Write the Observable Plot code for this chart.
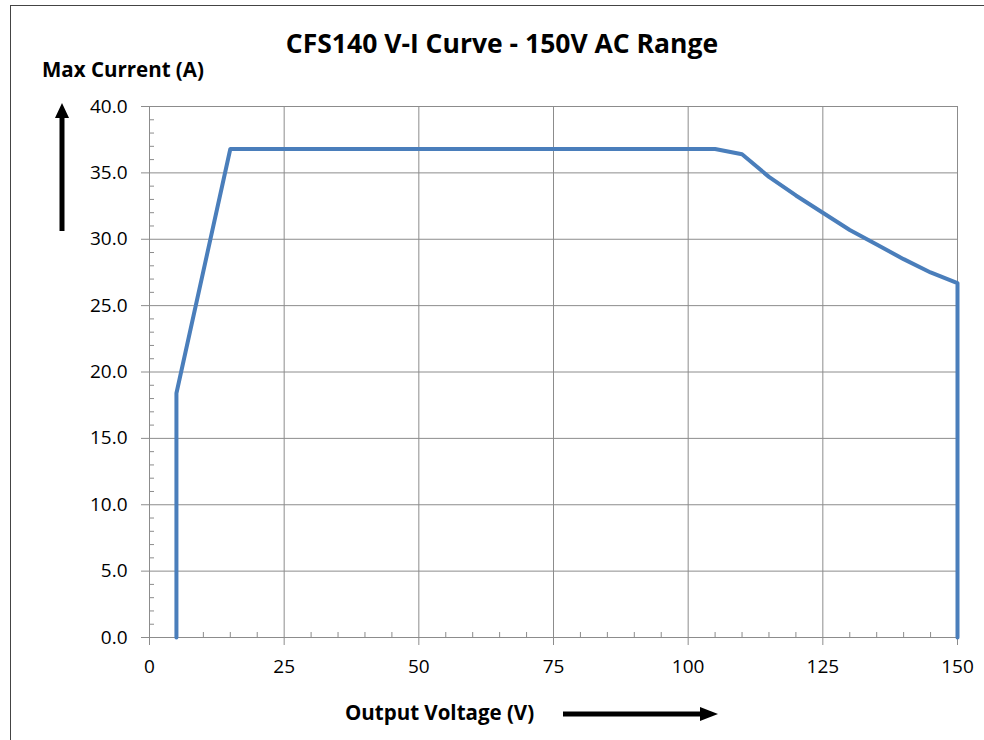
<!DOCTYPE html>
<html>
<head>
<meta charset="utf-8">
<script src="https://cdn.jsdelivr.net/npm/d3@7"></script>
<script src="https://cdn.jsdelivr.net/npm/@observablehq/plot@0.6"></script>
<style>
  html, body { margin: 0; padding: 0; background: #fff; }
  #wrap { position: relative; width: 984px; height: 740px; overflow: hidden; font-family: "Open Sans", sans-serif; }
  #frame { position: absolute; left: 10px; top: 5px; width: 990px; height: 760px; border: 1px solid #444; box-sizing: border-box; }
  #chart { position: absolute; left: 0; top: 0; }
  .lbl { position: absolute; font-weight: bold; color: #000; white-space: nowrap; }
  #title { left: 0; width: 1004px; text-align: center; top: 25px; font-size: 26.5px; }
  #ylab { left: 42px; top: 55px; font-size: 20.5px; }
  #xlab { left: 345px; top: 698px; font-size: 20.5px; }
  #arrows { position: absolute; left: 0; top: 0; }
</style>
</head>
<body>
<div id="wrap">
  <div id="frame"></div>
  <div id="chart"></div>
  <div class="lbl" id="title">CFS140 V-I Curve - 150V AC Range</div>
  <div class="lbl" id="ylab">Max Current (A)</div>
  <div class="lbl" id="xlab">Output Voltage (V)</div>
  <svg id="arrows" width="984" height="740">
    <line x1="62" y1="231" x2="62" y2="116" stroke="#000" stroke-width="5"/>
    <polygon points="55,118 69,118 62,103" fill="#000"/>
    <line x1="563" y1="714" x2="702" y2="714" stroke="#000" stroke-width="5"/>
    <polygon points="700,707 700,721 718,714" fill="#000"/>
  </svg>
</div>
<script>
// Data
const voltage = [5, 5, 15, 105, 110, 115, 120, 125, 130, 135, 140, 145, 150, 150];
const current = [0, 18.4, 36.8, 36.8, 36.4, 34.7, 33.3, 32.0, 30.7, 29.6, 28.5, 27.5, 26.7, 0];
const xTicks = [0, 25, 50, 75, 100, 125, 150];
const yTicks = [0, 5, 10, 15, 20, 25, 30, 35, 40];
const xMinor = [5, 10, 15, 20, 30, 35, 40, 45, 55, 60, 65, 70, 80, 85, 90, 95, 105, 110, 115, 120, 130, 135, 140, 145];
const yMinor = [1, 2, 3, 4, 6, 7, 8, 9, 11, 12, 13, 14, 16, 17, 18, 19, 21, 22, 23, 24, 26, 27, 28, 29, 31, 32, 33, 34, 36, 37, 38, 39];

const data = voltage.map((v, i) => ({v, c: current[i]}));

const W = 984, H = 740, mL = 149, mR = 27, mT = 106, mB = 103;
const pw = W - mL - mR, ph = H - mT - mB;
const gridColor = "#8c8c8c";

const chart = Plot.plot({
  width: W,
  height: H,
  marginLeft: mL,
  marginRight: mR,
  marginTop: mT,
  marginBottom: mB,
  style: {fontFamily: "'Open Sans', sans-serif", fontSize: "19px", color: "#000", background: "transparent"},
  x: {domain: [0, 150], ticks: xTicks},
  y: {domain: [0, 40], ticks: yTicks},
  marks: [
    Plot.gridX(xTicks, {stroke: gridColor, strokeOpacity: 1}),
    Plot.gridY(yTicks, {stroke: gridColor, strokeOpacity: 1}),
    Plot.tickY(yMinor, {y: d => d, stroke: gridColor, insetRight: pw - 5}),
    Plot.tickX(xMinor, {x: d => d, stroke: gridColor, insetTop: ph - 5}),
    Plot.axisX(xTicks, {tickSize: 8, tickPadding: 14, stroke: gridColor, label: null, fill: "#000", tickFormat: d => String(d)}),
    Plot.axisY(yTicks, {tickSize: 8, tickPadding: 14, stroke: gridColor, label: null, fill: "#000", tickFormat: d => d.toFixed(1)}),
    Plot.ruleY([0], {stroke: gridColor}),
    Plot.ruleX([0], {stroke: gridColor}),
    Plot.line(data, {x: "v", y: "c", stroke: "#4a7ebb", strokeWidth: 4, strokeLinejoin: "round"})
  ]
});
document.getElementById("chart").appendChild(chart);
</script>
</body>
</html>
